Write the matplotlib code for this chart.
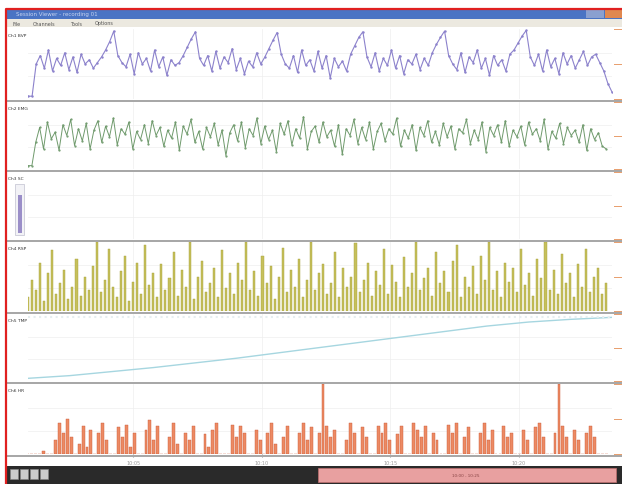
import matplotlib.pyplot as plt
import numpy as np
from matplotlib.patches import Rectangle

# values (0-100 scale, relative to each panel)
purple = [4, 4, 50, 62, 44, 70, 40, 58, 48, 66, 42, 60, 38, 64, 50, 56, 44, 52, 60, 70, 82, 97,
          62, 52, 46, 64, 36, 66, 50, 58, 40, 70, 46, 60, 34, 56, 48, 52, 62, 74, 86, 96,
          58, 48, 62, 40, 68, 44, 60, 52, 72, 42, 58, 36, 54, 46, 66, 50, 60, 72, 84, 95,
          64, 50, 44, 62, 38, 70, 48, 56, 40, 68, 44, 62, 30, 58, 46, 54, 40, 64, 76, 88, 96,
          60, 46, 66, 40, 58, 48, 70, 44, 62, 36, 56, 50, 64, 42, 58, 48, 66, 78, 88, 97,
          62, 50, 42, 66, 38, 60, 52, 70, 44, 58, 34, 62, 48, 56, 40, 64, 70, 80, 90, 98,
          60, 48, 64, 40, 70, 46, 58, 36, 66, 50, 62, 44, 56, 68, 48, 60, 64, 52, 40, 22, 10]

green = [5, 5, 40, 62, 30, 70, 45, 55, 28, 66, 50, 74, 35, 60, 42, 68, 30, 58, 72, 40, 64, 48, 76, 36,
         60, 52, 70, 30, 56, 44, 66, 38, 72, 50, 62, 34, 58, 46, 70, 28, 64, 52, 74, 40, 56, 30, 62, 48,
         68, 36, 58, 20, 54, 66, 42, 70, 32, 60, 50, 76, 38, 64, 44, 58, 26, 68, 52, 72, 36, 60, 46, 78,
         30, 56, 64, 40, 70, 48, 58, 34, 66, 22, 60, 50, 74, 38, 62, 44, 70, 30, 56, 68, 42, 60, 52, 76,
         34, 58, 46, 66, 28, 62, 50, 72, 40, 56, 36, 68, 48, 64, 30, 60, 54, 74, 38, 58, 44, 70, 26, 62,
         50, 66, 40, 72, 34, 58, 48, 64, 36, 70, 52, 60, 42, 74, 30, 56, 46, 68, 38, 62, 50, 58, 40, 66,
         28, 60, 44, 54, 34, 30]

olive = [20, 45, 30, 70, 15, 55, 88, 25, 40, 60, 18, 35, 75, 22, 50, 30, 65, 100, 28, 45, 90, 35, 20, 58,
         80, 15, 42, 70, 25, 95, 38, 55, 20, 68, 30, 48, 85, 22, 60, 35, 100, 18, 50, 72, 28, 40, 62, 20,
         88, 33, 55, 25, 70, 45, 100, 30, 58, 22, 80, 40, 65, 18, 50, 92, 28, 60, 35, 75, 20, 45, 100, 30,
         55, 68, 25, 40, 85, 20, 62, 35, 50, 98, 28, 45, 70, 22, 58, 38, 90, 25, 66, 42, 20, 78, 35, 55,
         100, 30, 48, 62, 22, 85, 40, 58, 28, 72, 95, 20, 50, 35, 65, 25, 80, 45, 100, 30, 58, 20, 70, 42,
         62, 28, 90, 38, 55, 22, 75, 48, 100, 30, 60, 25, 82, 40, 55, 20, 68, 35, 90, 28, 50, 62, 25, 40]

cyan = [4, 8, 14, 20, 27, 34, 42, 50, 58, 66, 74, 82, 88, 92, 95]

orange = [0, 0, 0, 0, 5, 0, 0, 20, 45, 30, 50, 25, 0, 15, 40, 10, 35, 0, 30, 45, 20, 0, 0, 38, 25, 42,
          10, 30, 0, 0, 35, 48, 20, 40, 0, 0, 25, 45, 15, 0, 30, 20, 40, 0, 0, 28, 10, 35, 45, 0, 0, 0,
          42, 25, 40, 30, 0, 0, 35, 20, 0, 30, 45, 15, 0, 25, 40, 0, 0, 30, 45, 20, 38, 0, 30, 100, 40,
          25, 35, 0, 0, 20, 45, 30, 0, 38, 25, 0, 0, 40, 30, 45, 20, 0, 28, 40, 0, 0, 45, 35, 25, 40, 0,
          30, 20, 0, 0, 42, 30, 45, 0, 25, 38, 0, 0, 30, 45, 20, 35, 0, 0, 40, 25, 30, 0, 0, 35, 20, 0,
          38, 45, 25, 0, 0, 30, 100, 40, 25, 0, 35, 20, 0, 30, 40, 25, 0, 0, 0]

channel_names = ["Ch1 BVP", "Ch2 EMG", "Ch3 SC", "Ch4 RSP", "Ch5 TMP", "Ch6 HR"]
time_labels = ["10:05", "10:10", "10:15", "10:20"]
time_pos = [0.18, 0.40, 0.62, 0.84]
menu_items = ["File", "Channels", "Tools", "Options"]

W, H = 622, 485
fig = plt.figure(figsize=(6.22, 4.85), dpi=100)
fig.patch.set_facecolor("white")


def fx(px):
    return px / W


def fy(py):
    return 1 - py / H


def frect(x0, y0, x1, y1, **kw):
    fig.patches.append(Rectangle((fx(x0), fy(y1)), fx(x1) - fx(x0), (y1 - y0) / H,
                                 transform=fig.transFigure, **kw))


# window chrome
frect(6, 9, 622, 20, facecolor="#4a74c4", edgecolor="none")
fig.text(fx(16), fy(14.5), "Session Viewer - recording 01", fontsize=4, color="#c8d4f0", va="center")
frect(586, 11, 604, 19, facecolor="#8aa0d0", edgecolor="none")
frect(605, 11, 622, 19, facecolor="#e08850", edgecolor="none")
frect(6, 20, 622, 28, facecolor="#ece9e0", edgecolor="none")
mx = 12
for m in menu_items:
    fig.text(fx(mx), fy(24), m, fontsize=3.5, color="#555555", va="center")
    mx += 5 + 4 * len(m)

panels = [(30, 100), (103, 170), (173, 240), (243, 312), (315, 382), (385, 455)]
axes = []
for i, (t, b) in enumerate(panels):
    ax = fig.add_axes([fx(28), fy(b), fx(612) - fx(28), (b - t) / H])
    ax.set_facecolor("white")
    for s in ax.spines.values():
        s.set_visible(False)
    ax.set_xticks([])
    ax.set_yticks([])
    for g in (0.33, 0.66):
        ax.axhline(g * 100, color="#eeeeee", lw=0.5, zorder=0)
    for p in time_pos:
        ax.axvline(p * 100, color="#eeeeee", lw=0.5, zorder=0)
    axes.append(ax)
    fig.text(fx(8), fy(t + 6), channel_names[i], fontsize=3.2, color="#333333", va="center")
    # separators
    frect(6, b + 0.5, 622, b + 2.5, facecolor="#a8a8a8", edgecolor="none")
    # orange level markers on the right
    for yy in (t, (t + b) / 2, b):
        frect(614, yy, 622, yy + 1.3, facecolor="#e8a070", edgecolor="none")

# panel 1: purple line
x1 = np.linspace(0, 100, len(purple))
axes[0].plot(x1, purple, color="#8c82cc", lw=0.8, marker=".", ms=1.5)
axes[0].set_xlim(0, 100)
axes[0].set_ylim(0, 100)

# panel 2: green line
x2 = np.linspace(0, 99, len(green))
axes[1].plot(x2, green, color="#6f9a6c", lw=0.7, marker=".", ms=1.2)
axes[1].set_xlim(0, 100)
axes[1].set_ylim(0, 100)

# panel 3: empty with slider bar in label column
axes[2].set_xlim(0, 100)
axes[2].set_ylim(0, 100)
frect(15, 185, 24, 236, facecolor="#f2f2f6", edgecolor="#c0c0d0", lw=0.5)
frect(18, 196, 22, 234, facecolor="#9a8ec8", edgecolor="none")

# panel 4: olive bars
x4 = np.linspace(0, 99, len(olive))
axes[3].bar(x4, olive, width=0.35, color="#c6c05c", edgecolor="#a8a238", lw=0.3)
axes[3].set_xlim(0, 100)
axes[3].set_ylim(0, 100)

# panel 5: rising cyan line
x5 = np.linspace(0, 100, len(cyan))
axes[4].plot(x5, cyan, color="#a6d6e0", lw=1.0)
axes[4].axhline(96, color="#e6eef0", lw=1.5, ls=":")
axes[4].set_xlim(0, 100)
axes[4].set_ylim(0, 100)

# panel 6: orange bars
x6 = np.linspace(0, 99, len(orange))
axes[5].bar(x6, orange, width=0.5, color="#ec8a64", edgecolor="#cc5a38", lw=0.3)
axes[5].set_xlim(0, 100)
axes[5].set_ylim(0, 100)
axes[5].set_xticks([p * 100 for p in time_pos])
axes[5].set_xticklabels(time_labels, fontsize=3.5, color="#777777")
axes[5].tick_params(axis="x", length=2, pad=2, colors="#999999")

# bottom bar with buttons and scroll area
frect(6, 467, 622, 485, facecolor="#2a2a2a", edgecolor="none")
for bx in (10, 20, 30, 40):
    frect(bx, 470, bx + 8, 480, facecolor="#cccccc", edgecolor="#888888", lw=0.4)
frect(318, 469, 616, 483, facecolor="#e8a0a0", edgecolor="#c07070", lw=0.5)
fig.text(fx(466), fy(476), "10:00 - 10:25", fontsize=3, color="#884444", ha="center", va="center")

# red frame (left and top edges)
fig.add_artist(plt.Line2D([fx(6), fx(6), fx(622)], [fy(485), fy(10), fy(10)],
                          transform=fig.transFigure, color="#e02020", lw=1.6))

fig.savefig("out.png", dpi=100)
